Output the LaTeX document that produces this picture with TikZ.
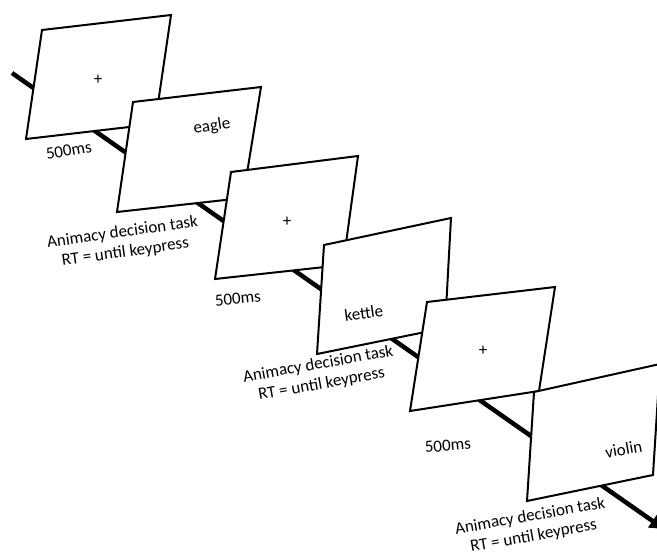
\documentclass[tikz,border=0pt]{standalone}
\usepackage{fontspec}
\usepackage{graphicx}
\setmainfont{Carlito}
\usetikzlibrary{arrows.meta,positioning}

\tikzset{screen/.style={draw=black,fill=white,line width=2pt,line join=miter},
  timeline/.style={line width=4.5pt,-{Triangle[length=14pt,width=15pt]}},
  word/.style={font=\fontsize{17}{20}\selectfont,inner sep=0pt,align=center}}
\newcommand{\tilt}[2]{\rotatebox{#1}{\begin{tabular}{@{}c@{}}#2\end{tabular}}}

\begin{document}
\begin{tikzpicture}[x=1pt,y=1pt]
    \clip (0,0) rectangle (657,-556);
    \coordinate (start) at (12,-73); \coordinate (tip) at (664,-529);
    \draw [timeline] (start) -- (tip);

    % fixation, eagle
    \draw [screen] (42,-30) -- (171,-15) -- (155,-124) -- (26,-139) -- cycle;
    \node [word] (fix1) at (98,-80) {+};
    \draw [screen] (133,-102) -- (261,-87) -- (243,-198) -- (117,-212) -- cycle;
    \node [word] (eagle) at (212,-127) {\tilt{9}{eagle}};

    % fixation, kettle
    \draw [screen] (231,-172) -- (358,-156) -- (343,-265) -- (215,-279) -- cycle;
    \node [word] (fix2) at (287,-222) {+};
    \draw [screen] (324,-245) -- (451,-218) -- (445,-328) -- (317,-354) -- cycle;
    \node [word] (kettle) at (364,-315) {\tilt{8}{kettle}};

    % fixation, violin
    \draw [screen] (427,-302) -- (555,-287) -- (539,-391) -- (410,-411) -- cycle;
    \node [word] (fix3) at (483,-351) {+};
    \draw [screen] (534,-392) -- (660,-364) -- (653,-475) -- (527,-501) -- cycle;
    \node [word] (violin) at (624,-451) {\tilt{10}{violin}};

    \node [word] (dur1) at (69,-152) {\tilt{10}{500ms}};
    \node [word] (dur2) at (238,-300) {\tilt{6}{500ms}};
    \node [word] (dur3) at (448,-447) {\tilt{5}{500ms}};
    \node [word] (task1) at (124,-243) {\tilt{8}{Animacy decision task\\RT = until keypress}};
    \node [word] (task2) at (320,-375) {\tilt{10}{Animacy decision task\\RT = until keypress}};
    \node [word] (task3) at (532,-527) {\tilt{10}{Animacy decision task\\RT = until keypress}};
  \end{tikzpicture}
\end{document}
